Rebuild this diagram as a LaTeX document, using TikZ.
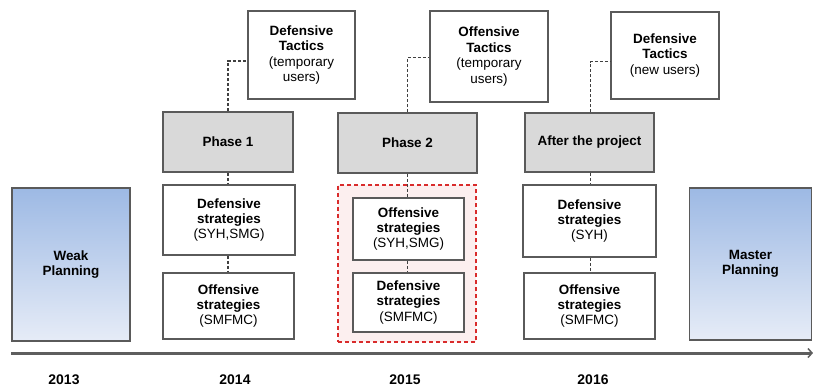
\documentclass[tikz,border=0pt]{standalone}
\usepackage{fontspec}
\setmainfont{Liberation Sans}
\usetikzlibrary{arrows.meta}
\definecolor{boxgray}{HTML}{5A5A5A}
\definecolor{phasefill}{HTML}{D9D9D9}
\definecolor{plantop}{HTML}{9DB9E4}
\definecolor{planbot}{HTML}{E6ECF7}
\definecolor{grpred}{HTML}{D92B2B}
\definecolor{grpfill}{HTML}{FCEFEF}
\definecolor{linegray}{HTML}{5E5E5E}
\definecolor{conngray}{HTML}{404040}
\tikzset{
  txt/.style={font=\fontsize{13.5}{15.5}\selectfont},
  bx/.style={draw=boxgray, line width=1.8bp, fill=white, align=center, inner sep=0pt, txt},
  phasebox/.style={bx, fill=phasefill},
  planbox/.style={bx, top color=plantop, bottom color=planbot},
  grpbox/.style={draw=grpred, dashed, dash pattern=on 4bp off 3bp, line width=1.5bp, fill=grpfill, inner sep=0pt},
  conn/.style={draw=conngray, line width=1.5bp, dash pattern=on 3bp off 2bp},
  yearlbl/.style={font=\fontsize{14}{16}\selectfont\bfseries},
}
\begin{document}
\begin{tikzpicture}[x=1bp,y=-1bp]
\useasboundingbox (0,0) rectangle (813,387);
% timeline
\coordinate (tl0) at (11,353);
\coordinate (tl1) at (813,353);
\draw[linegray, line width=3bp, -{Straight Barb[length=4bp,width=9bp,line width=1.5bp]}] (tl0) -- (tl1);
% group
\node[grpbox, minimum width=138bp, minimum height=157bp] (grp) at (407,263.5) {};
% planning boxes
\node[planbox, minimum width=118bp, minimum height=153bp] (weak) at (71,264.5) {\bfseries Weak\\\bfseries Planning};
\node[planbox, minimum width=122bp, minimum height=152bp] (master) at (750.5,264) {\bfseries Master\\\bfseries Planning};
% tactics
\node[bx, minimum width=107bp, minimum height=88bp] (t1) at (301.5,55) {\bfseries Defensive\\\bfseries Tactics\\(temporary\\users)};
\node[bx, minimum width=118bp, minimum height=91bp] (t2) at (489,56.5) {\bfseries Offensive\\\bfseries Tactics\\(temporary\\users)};
\node[bx, minimum width=108bp, minimum height=87bp] (t3) at (665,55.5) {\bfseries Defensive\\\bfseries Tactics\\(new users)};
% phases
\node[phasebox, minimum width=130bp, minimum height=60bp] (p1) at (228,142) {\bfseries Phase 1};
\node[phasebox, minimum width=139bp, minimum height=60bp] (p2) at (407.5,143) {\bfseries Phase 2};
\node[phasebox, minimum width=129bp, minimum height=59bp] (p3) at (589.5,142.5) {\bfseries After the project};
% strategies
\node[bx, minimum width=132bp, minimum height=70bp] (d1) at (229,220) {\bfseries Defensive\\\bfseries strategies\\(SYH,SMG)};
\node[bx, minimum width=131bp, minimum height=66bp] (o1) at (228.5,306) {\bfseries Offensive\\\bfseries strategies\\(SMFMC)};
\node[bx, minimum width=111bp, minimum height=62bp] (o2) at (408.5,229) {\bfseries Offensive\\\bfseries strategies\\(SYH,SMG)};
\node[bx, minimum width=111bp, minimum height=59bp] (d2) at (408.5,302.5) {\bfseries Defensive\\\bfseries strategies\\(SMFMC)};
\node[bx, minimum width=133bp, minimum height=72bp] (d3) at (589.5,221) {\bfseries Defensive\\\bfseries strategies\\(SYH)};
\node[bx, minimum width=131bp, minimum height=66bp] (o3) at (589.5,306) {\bfseries Offensive\\\bfseries strategies\\(SMFMC)};
% connectors
\draw[conn] (p1.north) |- ([yshift=-6bp]t1.west);
\draw[conn] (p2.north) |- ([yshift=-1bp]t2.west);
\draw[conn] ([xshift=1bp]p3.north) |- ([yshift=-6bp]t3.west);
\draw[conn] (p1.south) -- (p1.south |- d1.north);
\draw[conn] (p1.south |- d1.south) -- (p1.south |- o1.north);
\draw[conn] (p2.south) -- (p2.south |- o2.north);
\draw[conn] (p2.south |- o2.south) -- (p2.south |- d2.north);
\draw[conn] ([xshift=1bp]p3.south) -- ([xshift=1bp]p3.south |- d3.north);
\draw[conn] ([xshift=1bp]p3.south |- d3.south) -- ([xshift=1bp]p3.south |- o3.north);
% years
\node[yearlbl] (y13) at (64,380) {2013};
\node[yearlbl] (y14) at (235,380) {2014};
\node[yearlbl] (y15) at (405,380) {2015};
\node[yearlbl] (y16) at (593,380) {2016};
\end{tikzpicture}
\end{document}
